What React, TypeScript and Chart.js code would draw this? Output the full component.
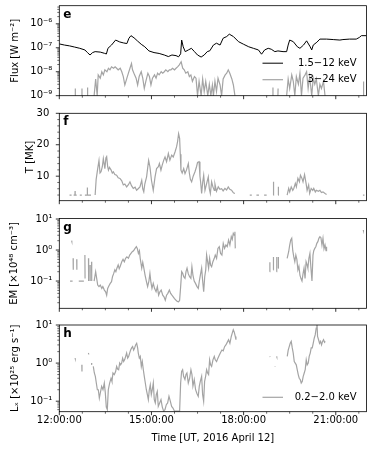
import React, { useEffect, useRef } from 'react';
import { Chart, registerables } from 'chart.js';

Chart.register(...registerables);

const FONT = "'DejaVu Sans', 'Liberation Sans', sans-serif";
Chart.defaults.font.family = FONT;
Chart.defaults.font.size = 10;
Chart.defaults.color = '#000';

const BLACK = '#000000';
const GRAY = '#a4a4a4';

// ---- x axis: minutes after 12:00 UT, 2016 April 12 ----
const X_MIN = 0;
const X_MAX = 600;
const X_MAJOR_STEP = 180;
const X_MINOR_STEP = 45;
const X_TICK_LABELS = ['12:00:00', '15:00:00', '18:00:00', '21:00:00'];
const X_TITLE = 'Time [UT, 2016 April 12]';

// ---- panel e: GOES 1.5-12 keV flux (W m^-2) ----
const goesT = [
  0, 10, 20, 30, 40, 50, 55, 60, 65, 70,
  80, 88, 92, 95, 102, 110, 118, 125, 132, 136,
  140, 146, 153, 160, 167, 175, 185, 195, 205, 213,
  220, 228, 233, 237, 239, 242, 246, 252, 258, 264,
  270, 277, 283, 289, 294, 301, 307, 314, 320, 327,
  332, 340, 350, 360, 370, 379, 389, 395, 401, 408,
  414, 421, 427, 437, 444, 447, 450, 457, 465, 470,
  477, 483, 490, 493, 496, 503, 509, 522, 535, 548,
  554, 567, 580, 586, 590, 600,
];
const goesV = [
  1.45e-7, 1.3e-7, 1.2e-7, 1.07e-7, 9.5e-8, 8.1e-8, 6.3e-8, 5.0e-8, 6.3e-8, 6.9e-8,
  6.6e-8, 5.9e-8, 5.5e-8, 9.5e-8, 1.3e-7, 2.1e-7, 1.75e-7, 1.6e-7, 1.5e-7, 2.5e-7,
  3.2e-7, 2.6e-7, 1.9e-7, 1.4e-7, 1.1e-7, 7.4e-8, 6.3e-8, 5.8e-8, 5.0e-8, 4.3e-8,
  5.0e-8, 4.7e-8, 4.2e-8, 5.6e-8, 2.1e-7, 1.1e-7, 6.9e-8, 8.1e-8, 9.5e-8, 6.9e-8,
  5.0e-8, 4.1e-8, 5.0e-8, 6.9e-8, 7.5e-8, 1.3e-7, 1.55e-7, 1.3e-7, 2.5e-7, 2.95e-7,
  3.7e-7, 2.95e-7, 1.8e-7, 1.4e-7, 1.1e-7, 9.5e-8, 8.1e-8, 5.4e-8, 8.1e-8, 9.5e-8,
  8.7e-8, 6.9e-8, 7.4e-8, 6.9e-8, 6.9e-8, 1.3e-7, 2.1e-7, 1.8e-7, 1.1e-7, 9.5e-8,
  1.3e-7, 1.95e-7, 1.1e-7, 8.1e-8, 1.3e-7, 1.7e-7, 2.3e-7, 2.3e-7, 2.2e-7, 2.1e-7,
  2.2e-7, 2.3e-7, 2.3e-7, 2.7e-7, 3.2e-7, 3.2e-7,
];

// ---- panel e: 3-24 keV flux (null = data gap) ----
const hxrT = [
  31, 31.3, 31.3, 44, 44.3, 44.3, 55, 55.3, 55.3,
  68, 71, 74, 76, 80, 83, 86, 89, 93, 96,
  99, 102, 106, 109, 112, 115, 119, 122, 125, 128,
  132, 135, 138, 141, 143, 147, 150, 153, 156, 160,
  163, 166, 169, 173, 176, 179, 182, 186, 189, 192,
  195, 199, 202, 205, 208, 212, 215, 218, 221, 225,
  228, 231, 234, 238, 241, 244, 247, 251, 254, 257,
  260, 264, 267, 270, 273, 277, 280, 283, 286, 290,
  293, 296, 299, 301, 304, 307, 310, 314, 317, 320,
  324, 327, 330, 333, 337, 340, 343, 343,
  417, 417.3, 417.3, 427, 427.3, 427.3,
  444, 447, 450, 454, 457, 460, 463, 467, 470, 473,
  476, 480, 483, 486, 489, 493, 496, 499, 502, 506,
  509, 512, 516, 519, 519,
  594, 594.3,
];
const hxrV = [
  1e-9, 2e-9, null, 1e-9, 2e-9, null, 1e-9, 2.2e-9, null,
  1e-9, 5e-9, 1e-9, 7.4e-9, 5.4e-9, 1e-8, 7.4e-9, 1.2e-8, 1e-8, 1.4e-8,
  1.2e-8, 1.6e-8, 1.4e-8, 1.6e-8, 1.4e-8, 1.2e-8, 1.4e-8, 1e-8, 6.3e-9, 2.8e-9,
  5.4e-9, 8.7e-9, 1.4e-8, 2.2e-8, 1.2e-8, 7.4e-9, 5.4e-9, 2.8e-9, 6.3e-9, 1e-8,
  5.4e-9, 2e-9, 4e-9, 8.7e-9, 6.3e-9, 2.8e-9, 5.4e-9, 7.4e-9, 5.4e-9, 8.7e-9,
  7.4e-9, 1e-8, 8.7e-9, 1e-8, 1.2e-8, 1e-8, 1.2e-8, 1.2e-8, 1.4e-8, 1.2e-8,
  1.4e-8, 1.6e-8, 1.9e-8, 2.6e-8, 1.4e-8, 1.2e-8, 8.7e-9, 1e-8, 6.3e-9, 7.4e-9,
  4e-9, 6.3e-9, 5.4e-9, 1e-9, 4e-9, 1e-9, 5e-9, 1.5e-9, 4e-9, 1e-9,
  3e-9, 1e-9, 2.8e-9, 1e-9, 4e-9, 1.5e-9, 5.4e-9, 2.8e-9, 1e-9, 5e-9,
  7.4e-9, 8.7e-9, 1.2e-8, 8.7e-9, 5e-9, 2.8e-9, 1e-9, null,
  1e-9, 2.2e-9, null, 1e-9, 2e-9, null,
  1e-9, 5e-9, 2e-9, 7.4e-9, 4e-9, 1e-9, 6.3e-9, 3e-9, 8.7e-9, 1e-9,
  5.4e-9, 7.4e-9, 1e-8, 2e-9, 6.3e-9, 1e-9, 5.4e-9, 3e-9, 5e-9, 1e-9,
  3e-9, 2e-9, 4e-9, 1e-9, null,
  1e-9, 3.9e-9,
];

// ---- panel f: temperature (MK) ----
const tempT = [
  20, 24, 24, 28, 30.6, 30.8, 31, 34, 34, 40, 44, 44, 50, 54.5, 54.7, 55, 62, 62,
  70, 72, 75, 77.5, 79.5, 81.5, 84, 86, 88, 89,
  91, 92.5, 94.5, 96, 98, 101, 103.5, 105.5, 108.5, 112,
  115, 118.5, 122, 125, 128, 131.5, 135, 138, 141, 144.5,
  148, 151, 154, 157.5, 161, 163, 165, 167, 170.5, 172.5,
  174.5, 177, 180, 183.5, 187, 190, 193.5, 195.5, 198.5, 201,
  204, 206.5, 209.5, 213, 216, 219.5, 222.5, 226, 229, 231,
  233, 235, 236.3, 237.6, 240, 243, 245.5, 248.5, 252, 254,
  256, 258.5, 261.5, 265, 268, 270, 273, 274.7, 276, 278,
  280, 282, 284.5, 287.5, 291, 293, 295, 297.5, 300, 302.7,
  304, 307, 310.5, 313.7, 317, 320, 323.5, 326.7, 330, 333,
  336.5, 340, 343, 343,
  372, 376, 376, 385, 390, 390, 400, 405, 405,
  418, 418.3, 418.6, 418.6, 427.5, 427.8, 428.1, 428.1,
  445, 448, 450, 453, 456, 458, 461, 463, 466, 469,
  471, 474, 476, 479, 482, 484, 487, 489, 492, 495,
  497, 500, 502, 506, 509, 512, 515, 519, 522, 522,
  593, 596,
];
const tempV = [
  4, 4, null, 4, 4, 5.3, 4, 4, null, 4, 4, null, 4, 4, 6.4, 4, 4, null,
  4, 9, 12.4, 15, 11, 11.4, 13, 15.6, 13.5, 12.4,
  15.8, 16.2, 13, 11.9, 12.8, 12, 11, 11.4, 10.5, 10.3,
  9.5, 9.3, 8.5, 7.2, 7.5, 6.6, 7.3, 8.2, 7, 6.1,
  6.5, 5.5, 6, 6.6, 8.7, 6, 5, 7.5, 9.8, 12.5,
  15, 13, 8.7, 5.5, 9.8, 12.4, 13, 14, 11.9, 13.5,
  15.1, 16.1, 14.6, 17.2, 15.1, 16.7, 16.1, 17.7, 19.3, 21,
  23.5, 22, 17, 11.9, 11, 12.4, 10.8, 12, 14, 11,
  9, 8.2, 10, 11.4, 13, 14.4, 14.6, 10, 8.2, 4.5,
  8, 10.3, 5.5, 7.5, 9.8, 6, 4.5, 8.2, 6.6, 5.5,
  7.5, 5.2, 6.6, 5.8, 6, 5.3, 6.1, 5.6, 6.6, 5.8,
  5.55, 4.7, 4.5, null,
  4, 4, null, 4, 4, null, 4, 4, null,
  4, 8.2, 4, null, 4, 6.6, 4, null,
  4, 6.1, 5, 6.6, 5.5, 6.1, 7.7, 6.6, 9.3, 8.2,
  10.3, 9.3, 8.2, 10.5, 7.7, 5.5, 7.2, 4.5, 6.1, 5.5,
  6.1, 5, 5.5, 5.2, 5.5, 4.8, 5, 4.5, 4.2, null,
  4, 4,
];

// ---- panel g: emission measure (10^48 cm^-3) ----
const emT = [
  21, 26, 26, 24, 24.4, 24.4, 27, 27.3, 27.3, 34, 34.3, 34.3, 38, 48, 48,
  50, 50.3, 50.3, 57, 57.3, 57.3, 60, 60.3, 60.3, 63, 63.3, 63.3,
  68, 71, 73, 75, 77.5, 80, 83, 85, 88, 90.5,
  92.5, 94.5, 97, 99.5, 102, 104, 106, 108.5, 110.5, 112.5,
  115, 117, 119, 122, 124.5, 127, 129.5, 132, 135, 137.5,
  140, 142.5, 145, 148, 150.5, 152.5, 154.5, 156.5, 158, 161,
  163, 164.5, 167.5, 170, 172.5, 175, 177, 179, 181, 183.5,
  186, 189, 191.5, 194, 196.5, 199, 202, 204.5, 207, 209.5,
  212, 215, 217.5, 220, 222.5, 225, 228, 230.5, 233, 235,
  237, 239, 241, 243, 245.5, 247.5, 249.5, 252, 254.5, 257,
  259, 261, 263.5, 266, 269, 271.5, 273.5, 275.5, 278, 280,
  282, 284, 286, 287.7, 289.7, 291.6, 293.6, 295.5, 297.5, 300,
  302.7, 304.6, 307.2, 309.8, 312.4, 315, 317.6, 320.2, 322.8, 325.4,
  328, 330.6, 333.2, 335.9, 337.8, 339.8, 341.7, 343, 343.7, 343.7,
  411, 411.3, 411.3, 418, 418.3, 418.3, 424.4, 424.7, 424.7, 427.6, 427.9, 427.9,
  445, 448, 450, 452, 454, 456, 458, 460, 462, 464,
  466, 468, 470, 472, 474, 476, 478, 480, 482, 484,
  485.5, 487.5, 489.5, 491.5, 493.5, 495.5, 497, 499, 501, 503,
  505, 507, 509, 511, 513, 515, 517, 519, 521, 522, 522,
  593.6, 594,
];
const emV = [
  0.1, 0.1, null, 2.0, 1.9, null, 0.54, 0.23, null, 0.5, 0.23, null, 0.1, 0.1, null,
  0.69, 0.12, null, 0.54, 0.1, null, 0.33, 0.1, null, 0.42, 0.1, null,
  0.1, 0.2, 0.122, 0.074, 0.066, 0.074, 0.058, 0.066, 0.051, 0.045,
  0.035, 0.058, 0.07, 0.084, 0.095, 0.14, 0.17, 0.23, 0.2, 0.26,
  0.33, 0.25, 0.3, 0.42, 0.5, 0.42, 0.54, 0.6, 0.54, 0.69,
  0.78, 0.88, 0.95, 1.13, 1.28, 1.1, 0.78, 0.95, 0.54, 0.26,
  0.4, 0.3, 0.156, 0.1, 0.066, 0.1, 0.177, 0.09, 0.058, 0.084,
  0.058, 0.045, 0.066, 0.035, 0.045, 0.051, 0.035, 0.031, 0.024, 0.035,
  0.04, 0.051, 0.04, 0.035, 0.031, 0.027, 0.024, 0.022, 0.0215, 0.024,
  0.066, 0.2, 0.177, 0.138, 0.122, 0.2, 0.26, 0.17, 0.138, 0.122,
  0.29, 0.156, 0.1, 0.084, 0.066, 0.058, 0.1, 0.156, 0.26, 0.1,
  0.045, 0.138, 0.23, 0.69, 0.42, 0.26, 0.54, 0.33, 0.29, 0.42,
  0.54, 0.69, 0.54, 1.13, 1.28, 0.78, 0.69, 1.64, 1.13, 1.45,
  1.28, 2.1, 1.45, 2.7, 2.2, 3.45, 3.0, 3.9, 1.13, null,
  0.2, 0.4, null, 0.23, 0.6, null, 0.2, 0.6, null, 0.26, 0.6, null,
  0.54, 0.88, 1.45, 2.1, 2.4, 0.95, 0.6, 0.42, 0.69, 0.5,
  0.23, 0.3, 0.156, 0.12, 0.1, 0.17, 0.26, 0.122, 0.42, 0.33,
  0.26, 0.54, 0.78, 0.26, 0.1, 0.69, 0.95, 1.13, 1.28, 1.64,
  1.86, 2.38, 2.7, 2.5, 1.45, 2.38, 1.1, 1.45, 0.95, 1.28, null,
  4.4, 4.2,
];

// ---- panel h: 0.2-2.0 keV luminosity (10^25 erg s^-1) ----
const lxT = [
  30.7, 31.1, 31.1, 44, 44.3, 44.3, 56.7, 57.1, 57.1, 63, 63.3, 63.3,
  66.4, 68.4, 70.4, 72.3, 74.3, 76.2, 78.2, 80.1, 82.7, 85.3,
  87.9, 89.9, 91.8, 93.8, 95.7, 98.3, 101, 102.9, 104.8, 107.4,
  110, 112, 113.9, 115.9, 117.9, 119.8, 121.8, 123.7, 125.7, 127.6,
  129.6, 131.5, 133.5, 135.4, 137.4, 139.3, 141.3, 143.2, 145.2, 147.1,
  149.1, 151.1, 153, 154.3, 156.3, 158.2, 160.2, 162.1, 164.1, 166,
  168, 170, 171.9, 173.9, 175.8, 177.7, 179.7, 181.6, 183.6, 185.5,
  187.5, 189.4, 191.4, 193.3, 196, 198.6, 201.2, 203.8, 206.4, 209,
  211.6, 214.2, 216.8, 219.4, 222, 224.6, 227.2, 229.8, 232.4, 235,
  237, 238.9, 240.9, 242.8, 245.4, 247.4, 249.3, 251.9, 254.5, 257.1,
  259.1, 261, 263.6, 266.2, 268.8, 271.4, 273.4, 275.4, 278, 279.9,
  281.9, 283.8, 285.8, 287.7, 289.7, 291.6, 293.6, 295.5, 297.5, 300.1,
  302.7, 304.6, 307.2, 309.8, 312.4, 315, 317.6, 320.2, 322.8, 325.4,
  328, 330.6, 333.2, 335.9, 337.8, 339.8, 341.7, 343.7, 345, 345,
  411.3, 411.7, 411.7, 421.1, 421.5, 421.5, 424.4, 424.8, 424.8,
  445.2, 447.1, 449.1, 451, 453, 455, 456.9, 458.9, 460.8, 462.8,
  464.7, 466.7, 468.6, 470.6, 472.5, 474.5, 476.4, 478.4, 480.3, 482.3,
  484.2, 486.2, 488.1, 490.1, 492, 494, 495.9, 497.9, 499.8, 501.8,
  503.1, 504.4, 506.4, 508.3, 510.3, 512.2, 514.2, 516.1, 518.1, 519.4,
];
const lxV = [
  1.35, 1.3, null, 0.9, 0.6, null, 1.83, 1.8, null, 1.0, 0.9, null,
  0.82, 0.55, 0.45, 0.3, 0.2, 0.2, 0.12, 0.164, 0.245, 0.2,
  0.3, 0.164, 0.07, 0.06, 0.2, 0.3, 0.4, 0.33, 0.55, 0.5,
  0.6, 0.82, 0.7, 0.67, 1.0, 0.9, 1.0, 1.35, 1.1, 1.22,
  1.5, 1.83, 1.35, 1.5, 1.83, 2.2, 2.5, 2.7, 2.2, 2.5,
  3.0, 3.3, 2.5, 1.83, 1.35, 1.5, 0.82, 1.1, 0.67, 0.45,
  0.3, 0.2, 0.15, 0.11, 0.2, 0.27, 0.15, 0.2, 0.3, 0.11,
  0.09, 0.148, 0.18, 0.073, 0.09, 0.11, 0.07, 0.055, 0.06, 0.081,
  0.09, 0.134, 0.1, 0.073, 0.066, 0.056, 0.055, 0.055, 0.055, 0.055,
  0.3, 0.6, 0.67, 0.45, 0.37, 0.5, 0.55, 0.3, 0.4, 0.67,
  0.5, 0.25, 0.37, 0.2, 0.16, 0.134, 0.245, 0.33, 0.45, 0.15,
  0.1, 0.33, 0.45, 0.67, 0.55, 0.5, 1.22, 0.9, 0.82, 1.22,
  1.5, 1.22, 1.1, 1.35, 1.6, 1.9, 2.2, 2.1, 2.7, 3.0,
  3.5, 4.1, 3.3, 5.0, 6.1, 7.5, 6.5, 5.0, 4.1, null,
  1.5, 1.45, null, 0.82, 0.8, null, 1.5, 1.45, null,
  1.5, 2.2, 2.7, 3.3, 3.7, 2.5, 1.83, 1.1, 1.0, 0.9,
  0.67, 0.5, 0.4, 0.37, 0.3, 0.33, 0.45, 0.55, 0.67, 1.22,
  0.9, 1.0, 1.5, 1.83, 2.5, 2.5, 3.3, 4.5, 5.5, 8.3,
  14, 5.0, 4.1, 3.3, 3.7, 3.0, 3.7, 4.1, 3.5, 3.7,
];

// ---- helpers ----
const SUP: Record<string, string> = {
  '-': '⁻', '0': '⁰', '1': '¹', '2': '²', '3': '³', '4': '⁴', '5': '⁵', '6': '⁶', '7': '⁷', '8': '⁸', '9': '⁹',
};
const pow10Label = (v: number) => {
  const e = Math.round(Math.log10(v));
  return '10' + String(e).split('').map((c) => SUP[c]).join('');
};

function xTicks() {
  const out: any[] = [];
  for (let m = X_MIN; m <= X_MAX; m += X_MINOR_STEP) out.push({ value: m, major: m % X_MAJOR_STEP === 0 });
  return out;
}
function logTicks(min: number, max: number) {
  const out: any[] = [];
  for (let e = Math.floor(Math.log10(min)); e <= Math.ceil(Math.log10(max)); e++) {
    for (let m = 1; m <= 9; m++) {
      const v = m * Math.pow(10, e);
      if (v >= min * 0.9999 && v <= max * 1.0001) out.push({ value: v, major: m === 1 });
    }
  }
  return out;
}
function linTicks(min: number, max: number, minor: number, major: number) {
  const out: any[] = [];
  for (let v = Math.ceil(min / minor) * minor; v <= max + 1e-9; v += minor) {
    out.push({ value: v, major: Math.abs(v / major - Math.round(v / major)) < 1e-9 });
  }
  return out;
}

const panelDecor = {
  id: 'panelDecor',
  afterDraw(chart: any, _args: any, opts: any) {
    const { ctx, chartArea: a } = chart;
    ctx.save();
    ctx.strokeStyle = '#000';
    const xs = chart.scales.x;
    for (const t of xs.ticks) {
      const p = xs.getPixelForValue(t.value);
      ctx.lineWidth = t.major ? 0.8 : 0.6;
      ctx.beginPath();
      ctx.moveTo(p, a.bottom);
      ctx.lineTo(p, a.bottom + (t.major ? 3.5 : 2));
      ctx.stroke();
    }
    const ys = chart.scales.y;
    for (const t of ys.ticks) {
      const p = ys.getPixelForValue(t.value);
      ctx.lineWidth = t.major ? 0.8 : 0.6;
      ctx.beginPath();
      ctx.moveTo(a.left, p);
      ctx.lineTo(a.left - (t.major ? 3.5 : 2), p);
      ctx.stroke();
    }
    ctx.lineWidth = 0.8;
    ctx.strokeRect(a.left, a.top, a.right - a.left, a.bottom - a.top);
    ctx.fillStyle = '#000';
    ctx.font = `bold 12px ${FONT}`;
    ctx.textAlign = 'left';
    ctx.textBaseline = 'alphabetic';
    ctx.fillText(opts.letter, a.left + 4, a.top + 12);
    for (const item of opts.legend || []) {
      const ds = chart.data.datasets[item.index];
      const y = a.bottom - item.dy;
      ctx.strokeStyle = ds.borderColor;
      ctx.lineWidth = ds.borderWidth;
      ctx.beginPath();
      ctx.moveTo(a.right - opts.lineFrom, y);
      ctx.lineTo(a.right - opts.lineTo, y);
      ctx.stroke();
      ctx.fillStyle = '#000';
      ctx.font = `10px ${FONT}`;
      ctx.textAlign = 'right';
      ctx.textBaseline = 'middle';
      ctx.fillText(ds.label, a.right - opts.textRight, y);
    }
    ctx.restore();
  },
};

type Series = { label: string; times: number[]; values: (number | null)[]; color: string; width: number };
type Spec = {
  top: number; height: number; padTop: number; padBottom: number; xHeight: number; showX: boolean;
  yType: 'linear' | 'logarithmic'; yMin: number; yMax: number; yTitle: string; yTitlePad: number; yTickPad: number;
  yTicks: () => any[]; yLabel: (v: number) => string; letter: string; legend?: any[];
  series: Series[];
};

const Y_AXIS_WIDTH = 59.3;

function buildConfig(s: Spec): any {
  return {
    type: 'line',
    data: {
      datasets: s.series.map((d) => ({
        label: d.label,
        data: d.times.map((t, i) => ({ x: t, y: d.values[i] })),
        borderColor: d.color,
        borderWidth: d.width,
        pointRadius: 0,
        pointHoverRadius: 0,
        fill: false,
        tension: 0,
        spanGaps: false,
      })),
    },
    options: {
      animation: false,
      responsive: false,
      events: [],
      layout: { padding: { left: 0, right: 7.5, top: s.padTop, bottom: s.padBottom } },
      plugins: {
        legend: { display: false },
        tooltip: { enabled: false },
        panelDecor: { letter: s.letter, legend: s.legend, lineFrom: 104, lineTo: 83.5, textRight: 10 },
      },
      scales: {
        x: {
          type: 'linear',
          min: X_MIN,
          max: X_MAX,
          grid: { display: false, drawTicks: false },
          border: { display: false },
          ticks: {
            display: s.showX,
            autoSkip: false,
            maxRotation: 0,
            minRotation: 0,
            padding: 2.5,
            color: '#000',
            callback: (v: number) => (v % X_MAJOR_STEP === 0 ? X_TICK_LABELS[v / X_MAJOR_STEP] : ''),
          },
          title: { display: s.showX, text: X_TITLE, color: '#000', padding: { top: 0, bottom: 0 } },
          afterBuildTicks: (sc: any) => { sc.ticks = xTicks(); },
          afterFit: (sc: any) => {
            sc.height = s.xHeight;
            sc.paddingLeft = 0; sc.paddingRight = 0; sc.paddingTop = 0; sc.paddingBottom = 0;
          },
        },
        y: {
          type: s.yType,
          min: s.yMin,
          max: s.yMax,
          grid: { display: false, drawTicks: false },
          border: { display: false },
          ticks: {
            autoSkip: false,
            padding: s.yTickPad,
            color: '#000',
            callback: (_v: number, i: number, ticks: any[]) => (ticks[i] && ticks[i].major ? s.yLabel(ticks[i].value) : ''),
          },
          title: { display: true, text: s.yTitle, color: '#000', padding: { top: s.yTitlePad, bottom: 0 } },
          afterBuildTicks: (sc: any) => { sc.ticks = s.yTicks(); },
          afterFit: (sc: any) => {
            sc.width = Y_AXIS_WIDTH;
            sc.paddingLeft = 0; sc.paddingRight = 0; sc.paddingTop = 0; sc.paddingBottom = 0;
          },
        },
      },
    },
    plugins: [panelDecor],
  };
}

const E_MIN = 1e-9, E_MAX = 5.7e-6;
const F_MIN = 2.2, F_MAX = 30;
const G_MIN = 0.0132, G_MAX = 10.4;
const H_MIN = 0.053, H_MAX = 10;

const SPECS: Spec[] = [
  {
    top: 0, height: 108, padTop: 5.7, padBottom: 12.3, xHeight: 0, showX: false,
    yType: 'logarithmic', yMin: E_MIN, yMax: E_MAX, yTitle: 'Flux [W m⁻²]', yTitlePad: 9.3, yTickPad: 7,
    yTicks: () => logTicks(E_MIN, E_MAX), yLabel: pow10Label, letter: 'e',
    legend: [{ index: 0, dy: 32.5 }, { index: 1, dy: 16 }],
    series: [
      { label: '1.5−12 keV', times: goesT, values: goesV, color: BLACK, width: 1 },
      { label: '3−24 keV', times: hxrT, values: hxrV, color: GRAY, width: 1.2 },
    ],
  },
  {
    top: 108, height: 105, padTop: 5.3, padBottom: 12.3, xHeight: 0, showX: false,
    yType: 'linear', yMin: F_MIN, yMax: F_MAX, yTitle: 'T [MK]', yTitlePad: 24.7, yTickPad: 10,
    yTicks: () => linTicks(F_MIN, F_MAX, 2, 10), yLabel: (v) => String(v), letter: 'f',
    series: [{ label: 'T', times: tempT, values: tempV, color: GRAY, width: 1.2 }],
  },
  {
    top: 213, height: 105, padTop: 5.5, padBottom: 9.7, xHeight: 0, showX: false,
    yType: 'logarithmic', yMin: G_MIN, yMax: G_MAX, yTitle: 'EM [×10⁴⁸ cm⁻³]', yTitlePad: 8.7, yTickPad: 7,
    yTicks: () => logTicks(G_MIN, G_MAX), yLabel: pow10Label, letter: 'g',
    series: [{ label: 'EM', times: emT, values: emV, color: GRAY, width: 1.2 }],
  },
  {
    top: 318, height: 135, padTop: 7, padBottom: 8.3, xHeight: 33, showX: true,
    yType: 'logarithmic', yMin: H_MIN, yMax: H_MAX, yTitle: 'Lₓ [×10²⁵ erg s⁻¹]', yTitlePad: 9, yTickPad: 7,
    yTicks: () => logTicks(H_MIN, H_MAX), yLabel: pow10Label, letter: 'h',
    legend: [{ index: 0, dy: 14.4 }],
    series: [{ label: '0.2−2.0 keV', times: lxT, values: lxV, color: GRAY, width: 1.2 }],
  },
];

function Panel({ spec }: { spec: Spec }) {
  const ref = useRef<HTMLCanvasElement>(null);
  useEffect(() => {
    const chart = new Chart(ref.current as HTMLCanvasElement, buildConfig(spec));
    return () => chart.destroy();
  }, [spec]);
  return (
    <canvas
      ref={ref}
      width={374}
      height={spec.height}
      style={{ position: 'absolute', left: 0, top: spec.top, width: 374, height: spec.height }}
    />
  );
}

export default function App() {
  return (
    <div style={{ position: 'fixed', left: 0, top: 0, width: 374, height: 453, background: '#fff', overflow: 'hidden' }}>
      {SPECS.map((s) => (
        <Panel key={s.letter} spec={s} />
      ))}
    </div>
  );
}
